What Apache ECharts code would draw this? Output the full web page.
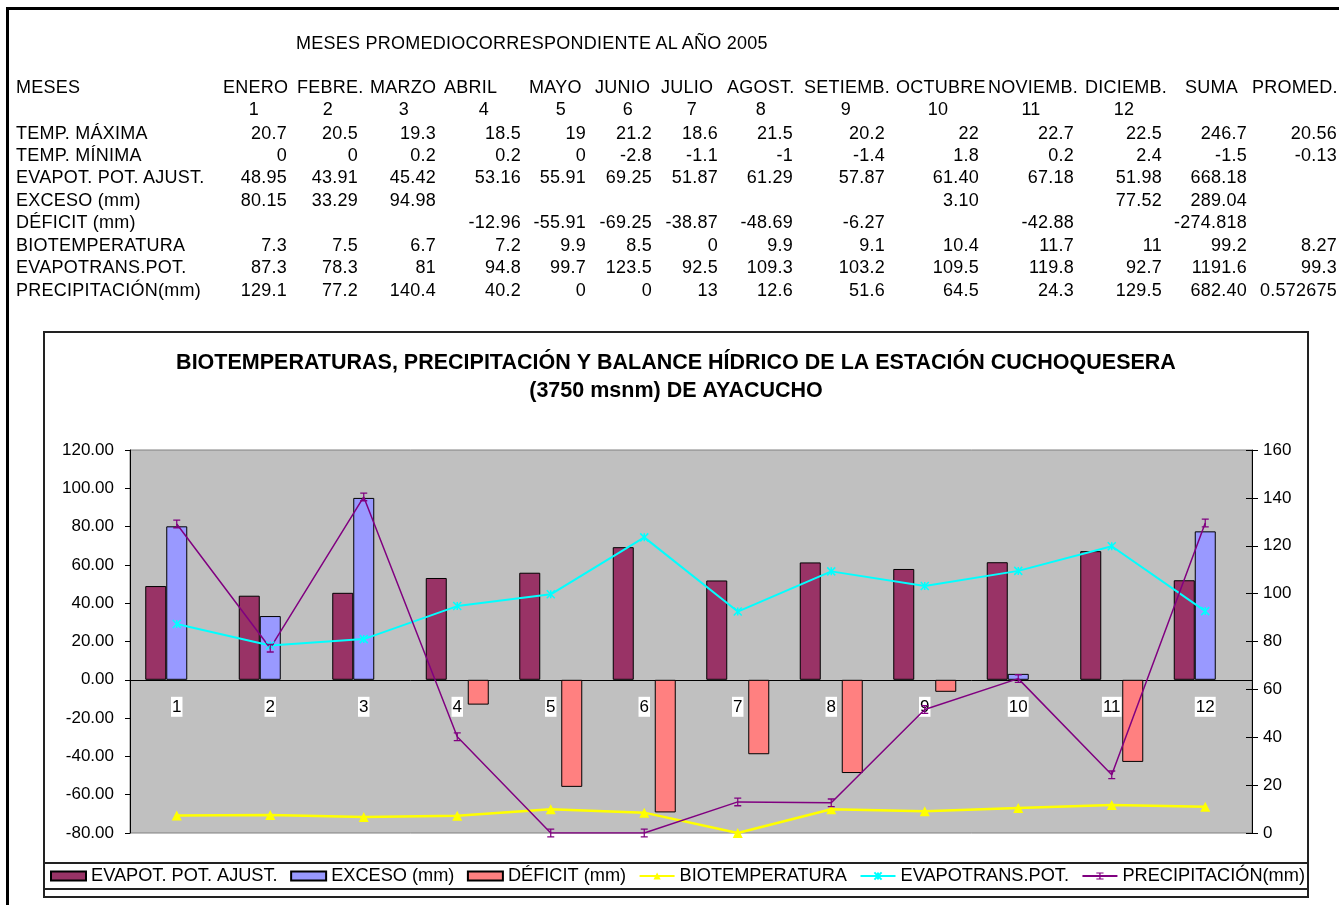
<!DOCTYPE html>
<html>
<head>
<meta charset="utf-8">
<script src="https://cdn.jsdelivr.net/npm/echarts@6/dist/echarts.min.js"></script>
<style>
  html, body { margin: 0; padding: 0; background: #fff; overflow: hidden; }
  #chart { position: absolute; left: 0; top: 0; width: 1339px; height: 905px; }
  #sheet { position: absolute; left: 0; top: 0; width: 1339px; height: 905px; pointer-events: none;
           font-family: "Liberation Sans", Arial, sans-serif; font-size: 18px; color: #000; letter-spacing: 0.25px; }
  #sheet span { position: absolute; white-space: nowrap; line-height: 20px; }
  #frame { position: absolute; left: 6px; top: 7px; width: 1400px; height: 1000px;
           border-top: 3px solid #000; border-left: 3px solid #000; }
</style>
</head>
<body>
<div id="chart"></div>
<div id="sheet"><div id="frame"></div></div>
<script>
// datos de la hoja (año 2005)
const months = ["1", "2", "3", "4", "5", "6", "7", "8", "9", "10", "11", "12"];
const monthNames = ["ENERO", "FEBRE.", "MARZO", "ABRIL", "MAYO", "JUNIO", "JULIO", "AGOST.", "SETIEMB.", "OCTUBRE", "NOVIEMB.", "DICIEMB."];
const tempMax = [20.7, 20.5, 19.3, 18.5, 19, 21.2, 18.6, 21.5, 20.2, 22, 22.7, 22.5];
const tempMin = [0, 0, 0.2, 0.2, 0, -2.8, -1.1, -1, -1.4, 1.8, 0.2, 2.4];
const evapotAjust = [48.95, 43.91, 45.42, 53.16, 55.91, 69.25, 51.87, 61.29, 57.87, 61.40, 67.18, 51.98];
const exceso = [80.15, 33.29, 94.98, null, null, null, null, null, null, 3.10, null, 77.52];
const deficit = [null, null, null, -12.96, -55.91, -69.25, -38.87, -48.69, -6.27, null, -42.88, null];
const biotemp = [7.3, 7.5, 6.7, 7.2, 9.9, 8.5, 0, 9.9, 9.1, 10.4, 11.7, 11];
const evapotrans = [87.3, 78.3, 81, 94.8, 99.7, 123.5, 92.5, 109.3, 103.2, 109.5, 119.8, 92.7];
const precip = [129.1, 77.2, 140.4, 40.2, 0, 0, 13, 12.6, 51.6, 64.5, 24.3, 129.5];
const suma = ["246.7", "-1.5", "668.18", "289.04", "-274.818", "99.2", "1191.6", "682.40"];
const promed = ["20.56", "-0.13", "", "", "", "8.27", "99.3", "0.572675"];
const leftMin = -80, leftMax = 120, rightMin = 0, rightMax = 160, step = 20;

const FONT = '"Liberation Sans", Arial, sans-serif';

// ---- tabla superior ----
const sheet = document.getElementById("sheet");
function put(text, x, y, align) {
  const s = document.createElement("span");
  s.textContent = text;
  s.style.top = (y - 10) + "px";
  if (align === "right") s.style.right = (1339 - x) + "px";
  else if (align === "center") { s.style.left = x + "px"; s.style.transform = "translateX(-50%)"; }
  else s.style.left = x + "px";
  sheet.appendChild(s);
}
const headX = [223, 297, 370, 444, 529, 595, 661, 727, 804, 896, 988, 1085];
const numX = [254, 328, 404, 484, 561, 628, 692, 761, 846, 938, 1031, 1124];
const rightX = [287, 358, 436, 521, 586, 652, 718, 793, 885, 979, 1074, 1162, 1247, 1337];
const rowY = [133, 155, 177, 200, 222, 245, 267, 290];

put("MESES PROMEDIOCORRESPONDIENTE AL AÑO 2005", 296, 43);
put("MESES", 16, 87);
monthNames.forEach((m, i) => put(m, headX[i], 87));
put("SUMA", 1185, 87);
put("PROMED.", 1252, 87);
months.forEach((m, i) => put(m, numX[i], 109, "center"));

const fix2 = v => v == null ? "" : v.toFixed(2);
const plain = v => v == null ? "" : String(v);
const rows = [
  ["TEMP. MÁXIMA", tempMax.map(plain)],
  ["TEMP. MÍNIMA", tempMin.map(plain)],
  ["EVAPOT. POT. AJUST.", evapotAjust.map(fix2)],
  ["EXCESO (mm)", exceso.map(fix2)],
  ["DÉFICIT (mm)", deficit.map(fix2)],
  ["BIOTEMPERATURA", biotemp.map(plain)],
  ["EVAPOTRANS.POT.", evapotrans.map(plain)],
  ["PRECIPITACIÓN(mm)", precip.map(plain)]
];
rows.forEach((r, k) => {
  put(r[0], 16, rowY[k]);
  r[1].concat([suma[k], promed[k]]).forEach((t, i) => { if (t) put(t, rightX[i], rowY[k], "right"); });
});

// ---- gráfico ----
const chart = echarts.init(document.getElementById("chart"), null, { renderer: "canvas" });
const axisBlack = { lineStyle: { color: "#000", width: 1 } };
const barBase = { type: "bar", xAxisIndex: 0, yAxisIndex: 0, barWidth: 21, barGap: "0%" };
const plot = { left: 130, top: 450, width: 1122, height: 383 };
// altura hasta la línea del cero del eje izquierdo
const zeroH = plot.height * leftMax / (leftMax - leftMin);

chart.setOption({
  animation: false,
  textStyle: { fontFamily: FONT },
  title: {
    text: "BIOTEMPERATURAS, PRECIPITACIÓN Y BALANCE HÍDRICO DE LA ESTACIÓN CUCHOQUESERA\n(3750 msnm) DE AYACUCHO",
    left: 676, top: 349, textAlign: "center", padding: 0,
    textStyle: { fontSize: 21.5, fontWeight: "bold", color: "#000", lineHeight: 28, fontFamily: FONT }
  },
  graphic: [
    { type: "rect", shape: { x: 44, y: 332, width: 1264, height: 565 }, style: { fill: null, stroke: "#222", lineWidth: 2 }, silent: true },
    { type: "rect", shape: { x: 44, y: 863, width: 1264, height: 26 }, style: { fill: null, stroke: "#222", lineWidth: 2 }, silent: true }
  ],
  grid: [
    { ...plot, show: true, backgroundColor: "#c0c0c0", borderColor: "#808080", borderWidth: 1 },
    // rejilla auxiliar cuyo borde inferior coincide con el cero: eje de categorías con marcas cruzadas
    { left: plot.left, top: plot.top, width: plot.width, height: zeroH, show: false }
  ],
  legend: {
    left: 50, top: 867, padding: 0, itemWidth: 35, itemHeight: 9, itemGap: 12.5,
    textStyle: { fontSize: 18.2, color: "#000", fontFamily: FONT },
    data: [
      { name: "EVAPOT. POT. AJUST.", icon: "rect" },
      { name: "EXCESO (mm)", icon: "rect" },
      { name: "DÉFICIT (mm)", icon: "rect" },
      "BIOTEMPERATURA", "EVAPOTRANS.POT.", "PRECIPITACIÓN(mm)"
    ]
  },
  xAxis: [
    {
      gridIndex: 0, type: "category", data: months,
      axisLine: { show: false, onZero: false }, axisTick: { show: false }, axisLabel: { show: false }, splitLine: { show: false }
    },
    {
      gridIndex: 1, type: "category", data: months, position: "bottom",
      axisLine: { onZero: false, ...axisBlack },
      axisTick: { length: 5, ...axisBlack },
      axisLabel: { margin: 17, fontSize: 17, color: "#000", backgroundColor: "#fff", padding: [2, 1, 1, 1], fontFamily: FONT },
      splitLine: { show: false }
    },
    {
      gridIndex: 1, type: "category", data: months, position: "bottom",
      axisLine: { show: false, onZero: false },
      axisTick: { inside: true, length: 5, ...axisBlack },
      axisLabel: { show: false }, splitLine: { show: false }
    }
  ],
  yAxis: [
    {
      gridIndex: 0, type: "value", min: leftMin, max: leftMax, interval: step, position: "left",
      axisLine: { show: true, onZero: false, ...axisBlack },
      axisTick: { show: true, length: 5, ...axisBlack },
      axisLabel: { formatter: v => v.toFixed(2), fontSize: 17, color: "#000", margin: 16, fontFamily: FONT },
      splitLine: { show: false }
    },
    {
      gridIndex: 0, type: "value", min: rightMin, max: rightMax, interval: step, position: "right",
      axisLine: { show: true, onZero: false, ...axisBlack },
      axisTick: { show: true, length: 6, ...axisBlack },
      axisLabel: { fontSize: 17, color: "#000", margin: 11, fontFamily: FONT },
      splitLine: { show: false }
    },
    {
      gridIndex: 1, type: "value", min: 0, max: leftMax, show: false
    },
    {
      gridIndex: 0, type: "value", min: rightMin, max: rightMax, interval: step, position: "right",
      axisLine: { show: false, onZero: false },
      axisTick: { show: true, inside: true, length: 6, ...axisBlack },
      axisLabel: { show: false }, splitLine: { show: false }
    }
  ],
  series: [
    { ...barBase, name: "EVAPOT. POT. AJUST.", data: evapotAjust, itemStyle: { color: "#993366", borderColor: "#000", borderWidth: 1 } },
    { ...barBase, name: "EXCESO (mm)", data: exceso, itemStyle: { color: "#9999ff", borderColor: "#000", borderWidth: 1 } },
    { ...barBase, name: "DÉFICIT (mm)", data: deficit, itemStyle: { color: "#ff8080", borderColor: "#000", borderWidth: 1 } },
    {
      type: "line", name: "BIOTEMPERATURA", xAxisIndex: 0, yAxisIndex: 1, data: biotemp,
      symbol: "triangle", symbolSize: 10,
      lineStyle: { color: "#ffff00", width: 2.5 }, itemStyle: { color: "#ffff00" }
    },
    {
      type: "line", name: "EVAPOTRANS.POT.", xAxisIndex: 0, yAxisIndex: 1, data: evapotrans,
      symbol: "path://M0,0L10,10M10,0L0,10M5,0L5,10", symbolSize: 8,
      lineStyle: { color: "#00ffff", width: 2 }, itemStyle: { color: "#00ffff", borderColor: "#00ffff", borderWidth: 1.5 }
    },
    {
      type: "line", name: "PRECIPITACIÓN(mm)", xAxisIndex: 0, yAxisIndex: 1, data: precip,
      symbol: "path://M0,0H8V1.5H4.7V8.5H8V10H0V8.5H3.3V1.5H0Z", symbolSize: [7, 9],
      lineStyle: { color: "#800080", width: 1.5 }, itemStyle: { color: "#800080" }
    }
  ]
});
</script>
</body>
</html>
